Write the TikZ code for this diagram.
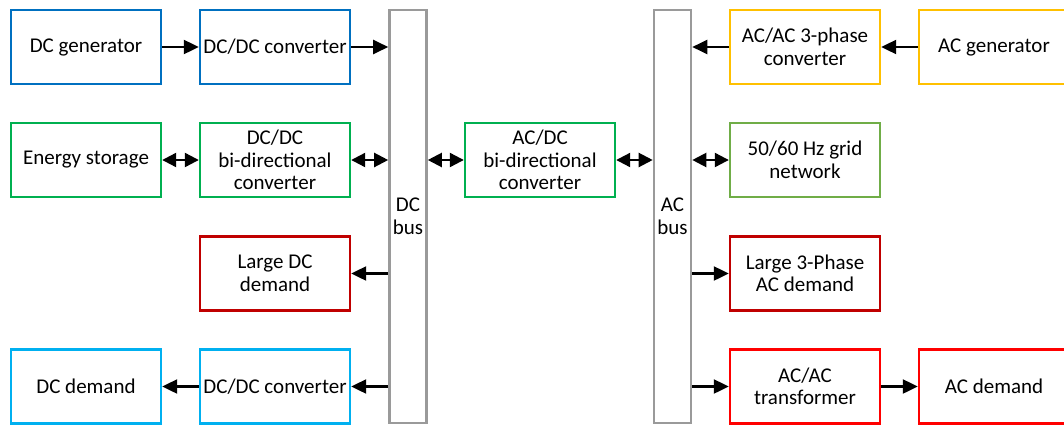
\documentclass[tikz,border=0pt]{standalone}
\usepackage{fontspec}
\setmainfont{Carlito}
\usetikzlibrary{arrows.meta}
\definecolor{cblue}{HTML}{0070C0}
\definecolor{cgreen}{HTML}{00B050}
\definecolor{cdred}{HTML}{C00000}
\definecolor{clblue}{HTML}{00B0F0}
\definecolor{cyellow}{HTML}{FFC000}
\definecolor{cgrid}{HTML}{70AD47}
\definecolor{cred}{HTML}{FF0000}
\definecolor{cgray}{HTML}{9A9A9A}
\tikzset{
  blk/.style={draw, line width=2.4pt, minimum width=150pt, minimum height=74pt, inner sep=0pt, align=center, font=\fontsize{21}{22.5}\selectfont},
  busbox/.style={draw=cgray, line width=2.6pt, minimum width=37pt, minimum height=413pt, inner sep=0pt, align=center, font=\fontsize{21}{22.5}\selectfont},
  arr/.style={line width=2.2pt, -{Triangle[length=15pt,width=14pt]}},
  barr/.style={line width=2.2pt, {Triangle[length=14pt,width=14pt]}-{Triangle[length=14pt,width=14pt]}}
}
\begin{document}
\begin{tikzpicture}[x=1pt,y=-1pt]
\useasboundingbox (0,0) rectangle (1064,426);
% buses
\node[busbox] (dcbus) at (408,216.5) {DC\\bus};
\node[busbox] (acbus) at (672.5,216.5) {AC\\bus};
% left column
\node[blk, draw=cblue] (dcgen) at (86,47) {DC generator};
\node[blk, draw=cblue] (dcconv) at (275,47) {DC/DC converter};
\node[blk, draw=cgreen] (es) at (86,160) {Energy storage};
\node[blk, draw=cgreen] (bidc) at (275,160) {DC/DC\\bi-directional\\converter};
\node[blk, draw=cdred] (ldc) at (275,273.5) {Large DC\\demand};
\node[blk, draw=clblue] (dcdem) at (86,386.5) {DC demand};
\node[blk, draw=clblue] (dcconv2) at (275,386.5) {DC/DC converter};
% middle
\node[blk, draw=cgreen] (acdc) at (540,160) {AC/DC\\bi-directional\\converter};
% right columns
\node[blk, draw=cyellow] (ac3) at (805,47) {AC/AC 3-phase\\converter};
\node[blk, draw=cyellow] (acgen) at (994,47) {AC generator};
\node[blk, draw=cgrid] (grid) at (805,160) {50/60 Hz grid\\network};
\node[blk, draw=cdred] (l3p) at (805,273.5) {Large 3-Phase\\AC demand};
\node[blk, draw=cred] (actr) at (805,386.5) {AC/AC\\transformer};
\node[blk, draw=cred] (acdem) at (994,386.5) {AC demand};
% connectors
\draw[arr] (dcgen) -- (dcconv);
\draw[arr] (dcconv.east) -- (dcbus.west |- dcconv);
\draw[barr] (es) -- (bidc);
\draw[barr] (bidc.east) -- (dcbus.west |- bidc);
\draw[arr] (dcbus.west |- ldc) -- (ldc.east);
\draw[arr] (dcbus.west |- dcconv2) -- (dcconv2.east);
\draw[arr] (dcconv2) -- (dcdem);
\draw[barr] (dcbus.east |- acdc) -- (acdc.west);
\draw[barr] (acdc.east) -- (acbus.west |- acdc);
\draw[arr] (acgen) -- (ac3);
\draw[arr] (ac3.west) -- (acbus.east |- ac3);
\draw[barr] (acbus.east |- grid) -- (grid.west);
\draw[arr] (acbus.east |- l3p) -- (l3p.west);
\draw[arr] (acbus.east |- actr) -- (actr.west);
\draw[arr] (actr) -- (acdem);
\end{tikzpicture}
\end{document}
